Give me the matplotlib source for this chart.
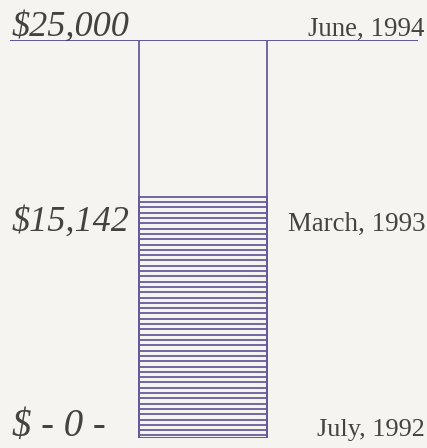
import matplotlib
matplotlib.use("Agg")
import matplotlib.pyplot as plt
import numpy as np

goal = 25000
raised = 15142
amount_labels = ["$25,000", "$15,142", "$ - 0 -"]
date_labels = ["June, 1994", "March, 1993", "July, 1992"]

purple = "#65579a"
ink = "#45423f"
paper = "#f5f4f0"

dpi = 90
fig = plt.figure(figsize=(427.2 / dpi, 448.2 / dpi), dpi=dpi, facecolor=paper)
ax = fig.add_axes([0, 10 / 448, 1, 398 / 448])
ax.set_xlim(0, 427)
ax.set_ylim(0, goal)
ax.set_facecolor(paper)
ax.axis("off")

px = goal / 398  # data units per pixel

# outline of the goal and of the raised amount
bar_x, bar_w = 202.5, 128
ax.bar(bar_x, goal, width=bar_w, facecolor="none", edgecolor=purple, linewidth=1.4)
ax.bar(bar_x, raised, width=bar_w, facecolor="none", edgecolor=purple, linewidth=1.4)

# horizontal ruling inside the raised part (evenly spaced, ~5.3 px apart)
rule_y = np.arange(raised, 0, -5.3 * px)[1:]
ax.hlines(rule_y, bar_x - bar_w / 2, bar_x + bar_w / 2, color=purple,
          linewidth=1.4, snap=True)

ax.hlines(goal, 10, 418, color=purple, linewidth=1.6)

serif = "Liberation Serif"
ax.text(12, goal + 4 * px, amount_labels[0], ha="left", va="baseline",
        fontsize=29, style="italic", family=serif, color=ink)
ax.text(424, goal + 4 * px, date_labels[0], ha="right", va="baseline",
        fontsize=21.5, family=serif, color=ink)

ax.text(12, raised - 34 * px, amount_labels[1], ha="left", va="baseline",
        fontsize=29, style="italic", family=serif, color=ink)
ax.text(425, raised - 34 * px, date_labels[1], ha="right", va="baseline",
        fontsize=21.5, family=serif, color=ink)

ax.text(12, 2 * px, amount_labels[2], ha="left", va="baseline",
        fontsize=31, style="italic", family=serif, color=ink, clip_on=False)
ax.text(425, 2 * px, date_labels[2], ha="right", va="baseline",
        fontsize=21, family=serif, color=ink, clip_on=False)

fig.savefig("out.png", dpi=dpi, facecolor=paper)
